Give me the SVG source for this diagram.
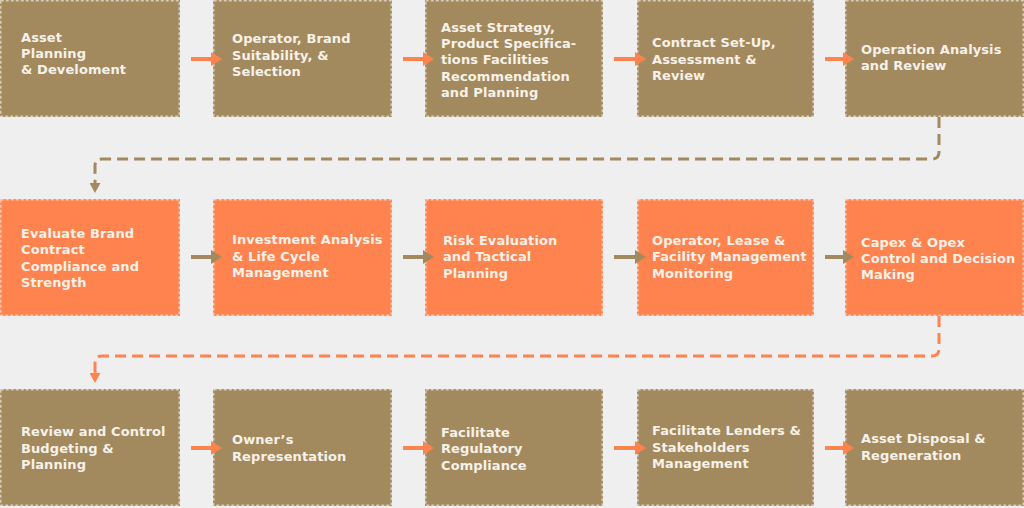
<svg xmlns="http://www.w3.org/2000/svg" width="1024" height="508" viewBox="0 0 1024 508">
<defs>
<style>
.bg{fill:#EFEFEF}
.b{fill:#A38A5E}
.o{fill:#FF834E}
.bd{fill:none;stroke:#FFFFFF;stroke-opacity:0.55;stroke-width:1.5;stroke-dasharray:3 2}
text{font-family:"DejaVu Sans","Liberation Sans",sans-serif;font-weight:700;font-size:13px;letter-spacing:0.1px;fill:#F6F1E9}
.ao{fill:none;stroke:#FF834E;stroke-width:4}
.ab{fill:none;stroke:#A38A5E;stroke-width:4}
.dbr{fill:none;stroke:#A38A5E;stroke-width:3;stroke-dasharray:11 6}
.dor{fill:none;stroke:#FF834E;stroke-width:3;stroke-dasharray:11 6}
</style>
<marker id="hO" viewBox="0 0 11 14" refX="0" refY="7" markerWidth="11" markerHeight="14" markerUnits="userSpaceOnUse" orient="auto"><path d="M0,0 L11,7 L0,14 Z" fill="#FF834E"/></marker>
<marker id="hB" viewBox="0 0 11 14" refX="0" refY="7" markerWidth="11" markerHeight="14" markerUnits="userSpaceOnUse" orient="auto"><path d="M0,0 L11,7 L0,14 Z" fill="#A38A5E"/></marker>
<marker id="dO" viewBox="0 0 10 11" refX="0" refY="5.5" markerWidth="10" markerHeight="11" markerUnits="userSpaceOnUse" orient="auto"><path d="M0,0 L10,5.5 L0,11 Z" fill="#FF834E"/></marker>
<marker id="dB" viewBox="0 0 10 11" refX="0" refY="5.5" markerWidth="10" markerHeight="11" markerUnits="userSpaceOnUse" orient="auto"><path d="M0,0 L10,5.5 L0,11 Z" fill="#A38A5E"/></marker>
</defs>
<rect class="bg" x="0" y="0" width="1024" height="508"/>

<g id="n1"><rect class="b" x="0" y="0" width="180" height="117"/><rect class="bd" x="0.75" y="0.75" width="178.5" height="115.5"/>
<text x="21" y="42">Asset</text><text x="21" y="58">Planning</text><text x="21" y="74">&amp; Develoment</text></g>
<g id="n2"><rect class="b" x="213" y="0" width="179" height="117"/><rect class="bd" x="213.75" y="0.75" width="177.5" height="115.5"/>
<text x="232" y="43">Operator, Brand</text><text x="232" y="60">Suitability, &amp;</text><text x="232" y="76">Selection</text></g>
<g id="n3"><rect class="b" x="425" y="0" width="178" height="117"/><rect class="bd" x="425.75" y="0.75" width="176.5" height="115.5"/>
<text x="441" y="32">Asset Strategy,</text><text x="441" y="48">Product Specifica-</text><text x="441" y="64">tions Facilities</text><text x="441" y="81">Recommendation</text><text x="441" y="97">and Planning</text></g>
<g id="n4"><rect class="b" x="637" y="0" width="177" height="117"/><rect class="bd" x="637.75" y="0.75" width="175.5" height="115.5"/>
<text x="652" y="47">Contract Set-Up,</text><text x="652" y="64">Assessment &amp;</text><text x="652" y="80">Review</text></g>
<g id="n5"><rect class="b" x="845" y="0" width="179" height="117"/><rect class="bd" x="845.75" y="0.75" width="177.5" height="115.5"/>
<text x="861" y="54">Operation Analysis</text><text x="861" y="70">and Review</text></g>

<g id="n6"><rect class="o" x="0" y="199" width="180" height="117"/><rect class="bd" x="0.75" y="199.75" width="178.5" height="115.5"/>
<text x="21" y="238">Evaluate Brand</text><text x="21" y="254">Contract</text><text x="21" y="271">Compliance and</text><text x="21" y="287">Strength</text></g>
<g id="n7"><rect class="o" x="213" y="199" width="179" height="117"/><rect class="bd" x="213.75" y="199.75" width="177.5" height="115.5"/>
<text x="232" y="244">Investment Analysis</text><text x="232" y="261">&amp; Life Cycle</text><text x="232" y="277">Management</text></g>
<g id="n8"><rect class="o" x="425" y="199" width="178" height="117"/><rect class="bd" x="425.75" y="199.75" width="176.5" height="115.5"/>
<text x="443" y="245">Risk Evaluation</text><text x="443" y="261">and Tactical</text><text x="443" y="278">Planning</text></g>
<g id="n9"><rect class="o" x="637" y="199" width="177" height="117"/><rect class="bd" x="637.75" y="199.75" width="175.5" height="115.5"/>
<text x="652" y="245">Operator, Lease &amp;</text><text x="652" y="261">Facility Management</text><text x="652" y="278">Monitoring</text></g>
<g id="n10"><rect class="o" x="845" y="199" width="179" height="117"/><rect class="bd" x="845.75" y="199.75" width="177.5" height="115.5"/>
<text x="861" y="247">Capex &amp; Opex</text><text x="861" y="263">Control and Decision</text><text x="861" y="279">Making</text></g>

<g id="n11"><rect class="b" x="0" y="389" width="180" height="117"/><rect class="bd" x="0.75" y="389.75" width="178.5" height="115.5"/>
<text x="21" y="436">Review and Control</text><text x="21" y="453">Budgeting &amp;</text><text x="21" y="469">Planning</text></g>
<g id="n12"><rect class="b" x="213" y="389" width="179" height="117"/><rect class="bd" x="213.75" y="389.75" width="177.5" height="115.5"/>
<text x="232" y="444">Owner’s</text><text x="232" y="461">Representation</text></g>
<g id="n13"><rect class="b" x="425" y="389" width="178" height="117"/><rect class="bd" x="425.75" y="389.75" width="176.5" height="115.5"/>
<text x="441" y="437">Facilitate</text><text x="441" y="453">Regulatory</text><text x="441" y="470">Compliance</text></g>
<g id="n14"><rect class="b" x="637" y="389" width="177" height="117"/><rect class="bd" x="637.75" y="389.75" width="175.5" height="115.5"/>
<text x="652" y="435">Facilitate Lenders &amp;</text><text x="652" y="452">Stakeholders</text><text x="652" y="468">Management</text></g>
<g id="n15"><rect class="b" x="845" y="389" width="179" height="117"/><rect class="bd" x="845.75" y="389.75" width="177.5" height="115.5"/>
<text x="861" y="443">Asset Disposal &amp;</text><text x="861" y="460">Regeneration</text></g>

<g id="connectors">
<path class="ao" d="M191,59 H211" marker-end="url(#hO)"/>
<path class="ao" d="M403,59 H423" marker-end="url(#hO)"/>
<path class="ao" d="M614,59 H635" marker-end="url(#hO)"/>
<path class="ao" d="M825,59 H843" marker-end="url(#hO)"/>
<path class="dbr" d="M939,117 V152 Q939,159 932,159 H102 Q95,159 95,166 V183" marker-end="url(#dB)"/>
<path class="ab" d="M191,257 H211" marker-end="url(#hB)"/>
<path class="ab" d="M403,257 H423" marker-end="url(#hB)"/>
<path class="ab" d="M614,257 H635" marker-end="url(#hB)"/>
<path class="ab" d="M825,257 H843" marker-end="url(#hB)"/>
<path class="dor" d="M939,316 V349 Q939,356 932,356 H102 Q95,356 95,363 V373" marker-end="url(#dO)"/>
<path class="ao" d="M191,448 H211" marker-end="url(#hO)"/>
<path class="ao" d="M403,448 H423" marker-end="url(#hO)"/>
<path class="ao" d="M614,448 H635" marker-end="url(#hO)"/>
<path class="ao" d="M825,448 H843" marker-end="url(#hO)"/>
</g>
</svg>
